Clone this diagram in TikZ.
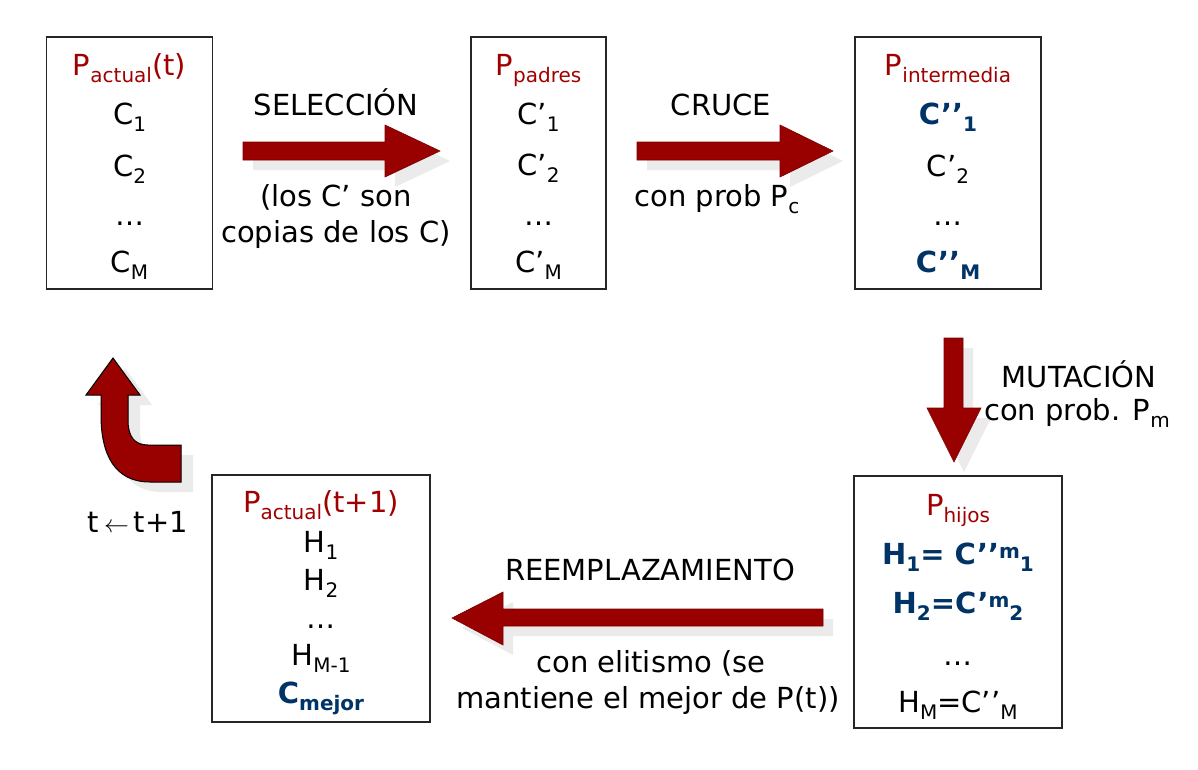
\documentclass[tikz,border=0pt]{standalone}
\usepackage{fontspec}
\setmainfont{DejaVu Sans}
\definecolor{ared}{HTML}{990000}
\definecolor{tred}{HTML}{A00000}
\definecolor{dblue}{HTML}{003366}
\definecolor{shadowc}{HTML}{EBEBEB}
\newcommand\sbs[1]{\raisebox{-0.27em}{\fontsize{20}{20}\selectfont #1}}
\newcommand\sps[1]{\raisebox{0.2em}{\fontsize{20}{20}\selectfont #1}}
\newcommand\blockshape[1]{%
  \fill[shadowc,shift={(10,10)}] #1;
  \filldraw[fill=ared,draw=ared!80!black,line width=0.6pt] #1;}
\begin{document}
\begin{tikzpicture}[x=1pt,y=-1pt,
  every node/.style={font=\fontsize{29}{31}\selectfont, inner sep=0pt},
  box/.style={draw=black!85,line width=1.4pt,fill=white},
  ttl/.style={anchor=base,text=tred},
  itm/.style={anchor=base},
  bitm/.style={anchor=base,text=dblue,font=\fontsize{29}{31}\selectfont\bfseries},
  lbl/.style={anchor=base,align=center}]
\useasboundingbox (0,0) rectangle (1198,769);

% boxes
\node[box,minimum width=166pt,minimum height=252pt] (b1) at (129.5,163) {};
\node[box,minimum width=135pt,minimum height=252pt] (b2) at (538.5,163) {};
\node[box,minimum width=186pt,minimum height=252pt] (b3) at (948,163) {};
\node[box,minimum width=208pt,minimum height=252pt] (b4) at (958,602) {};
\node[box,minimum width=218pt,minimum height=247pt] (b5) at (321,598.5) {};

% box 1
\node[ttl] (t1) at (129.5,75) {P\sbs{actual}(t)};
\node[itm] (b1a) at (129.5,124) {C\sbs{1}};
\node[itm] (b1b) at (129.5,176) {C\sbs{2}};
\node[itm] (b1c) at (129.5,225) {…};
\node[itm] (b1d) at (129.5,272) {C\sbs{M}};

% box 2
\node[ttl] (t2) at (538.5,75) {P\sbs{padres}};
\node[itm] (b2a) at (538.5,124) {C’\sbs{1}};
\node[itm] (b2b) at (538.5,175) {C’\sbs{2}};
\node[itm] (b2c) at (538.5,225) {…};
\node[itm] (b2d) at (538.5,272) {C’\sbs{M}};

% box 3
\node[ttl] (t3) at (948,75) {P\sbs{intermedia}};
\node[bitm] (b3a) at (948,124) {C’’\sbs{1}};
\node[itm] (b3b) at (948,176) {C’\sbs{2}};
\node[itm] (b3c) at (948,225) {…};
\node[bitm] (b3d) at (948,272) {C’’\sbs{M}};

% box 4
\node[ttl] (t4) at (958,515) {P\sbs{hijos}};
\node[bitm] (b4a) at (958,564) {H\sbs{1}= C’’\sps{m}\sbs{1}};
\node[bitm] (b4b) at (958,613) {H\sbs{2}=C’\sps{m}\sbs{2}};
\node[itm] (b4c) at (958,665) {…};
\node[itm] (b4d) at (958,712) {H\sbs{M}=C’’\sbs{M}};

% box 5
\node[ttl] (t5) at (321,512) {P\sbs{actual}(t+1)};
\node[itm] (b5a) at (321,552) {H\sbs{1}};
\node[itm] (b5b) at (321,590) {H\sbs{2}};
\node[itm] (b5c) at (321,628) {…};
\node[itm] (b5d) at (321,665) {H\sbs{M-1}};
\node[bitm] (b5e) at (321,703) {C\sbs{mejor}};

% arrows
\blockshape{(243,142) -- (385,142) -- (385,125) -- (440,151) -- (385,177) -- (385,160) -- (243,160) -- cycle}
\blockshape{(637,142) -- (780,142) -- (780,125) -- (833,151) -- (780,177) -- (780,160) -- (637,160) -- cycle}
\blockshape{(944,338) -- (963,338) -- (963,408) -- (981,408) -- (954,462) -- (927,408) -- (944,408) -- cycle}
\blockshape{(823,609) -- (503,609) -- (503,592) -- (452,618) -- (503,645) -- (503,626) -- (823,626) -- cycle}
\fill[shadowc,shift={(12,10)}] (101,395) -- (101,415) .. controls (101,455) and (115,482) .. (150,482) -- (181,482) -- (181,445) -- (148,445) .. controls (134,445) and (128,436) .. (128,420) -- (128,395) -- (140,395) -- (113,358) -- (86,395) -- cycle;
\filldraw[fill=ared,draw=black,line width=1pt] (101,395) -- (101,415) .. controls (101,455) and (115,482) .. (150,482) -- (181,482) -- (181,445) -- (148,445) .. controls (134,445) and (128,436) .. (128,420) -- (128,395) -- (140,395) -- (113,358) -- (86,395) -- cycle;

% labels
\node[lbl] (l1) at (336,115) {SELECCIÓN};
\node[lbl] (l2) at (336,206) {(los C’ son};
\node[lbl] (l3) at (336,242) {copias de los C)};
\node[lbl] (l4) at (721,115) {CRUCE};
\node[lbl] (l5) at (717,206) {con prob P\sbs{c}};
\node[lbl] (l6) at (1079,387) {MUTACIÓN};
\node[lbl] (l7) at (1077,420) {con prob. P\sbs{m}};
\node[lbl] (l8) at (650,580) {REEMPLAZAMIENTO};
\node[lbl] (l9) at (651,672) {con elitismo (se};
\node[lbl] (l10) at (648,708) {mantiene el mejor de P(t))};
\node[lbl] (l11) at (138,532) {t\,{\fontsize{24}{24}\selectfont$\leftarrow$}\,t+1};
\end{tikzpicture}
\end{document}
